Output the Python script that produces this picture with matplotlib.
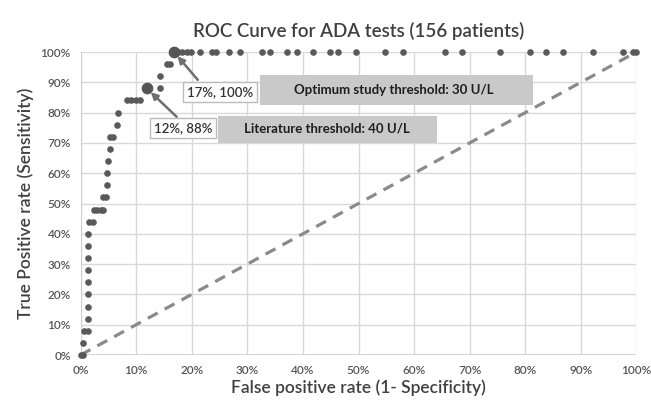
import matplotlib.pyplot as plt
from matplotlib.patches import Rectangle
from matplotlib.ticker import MultipleLocator, FuncFormatter

plt.rcParams['font.family'] = ['Lato', 'DejaVu Sans']

# ROC points (false positive rate %, true positive rate %)
fpr = [0, 0.4, 0.5, 0.6, 1.3, 1.4, 1.4, 1.4, 1.4, 1.4, 1.4, 1.4, 1.4, 1.5, 2.2,
       2.4, 3.0, 3.6, 4.1, 4.1, 4.6, 4.7, 4.7, 5.0, 5.3, 5.3, 5.9, 6.5, 6.8,
       8.3, 9.1, 9.9, 10.7, 11.9, 14.3, 14.3, 15.5, 16.1, 16.8,
       17.6, 18.3, 19.1, 19.8, 21.4, 23.7, 24.4, 26.7, 28.7, 32.6, 34.1, 37.1,
       38.9, 41.9, 44.9, 46.4, 49.6, 54.8, 58.0, 65.6, 68.6, 75.4, 80.8, 83.8,
       86.8, 92.2, 97.6, 99.4, 100]
tpr = [0, 0, 4, 8, 8, 12, 16, 20, 24, 28, 32, 36, 40, 44, 44,
       48, 48, 48, 48, 52, 52, 56, 60, 64, 68, 72, 72, 76, 80,
       84, 84, 84, 84, 88, 88, 92, 96, 96, 100] + [100] * 29

# highlighted thresholds
hl_fpr = [11.9, 16.8]
hl_tpr = [88, 100]

fig = plt.figure(figsize=(6.51, 4.01), dpi=100)
ax = fig.add_axes([0.1237, 0.1147, 0.854, 0.7556])

ax.plot([0, 100], [0, 100], ls=(0, (3.5, 2.5)), color='#8a8a8a', lw=2.3, zorder=2)
ax.scatter(fpr, tpr, s=14, color='#595959', zorder=3, clip_on=False)
ax.scatter(hl_fpr, hl_tpr, s=55, color='#555555', zorder=4, clip_on=False)

ax.set_xlim(0, 100)
ax.set_ylim(0, 100)
ax.xaxis.set_major_locator(MultipleLocator(10))
ax.yaxis.set_major_locator(MultipleLocator(10))
pct = FuncFormatter(lambda v, p: f'{v:.0f}%')
ax.xaxis.set_major_formatter(pct)
ax.yaxis.set_major_formatter(pct)
ax.tick_params(length=0, labelsize=8.5, colors='#555555', pad=7)
for lab in ax.get_xticklabels() + ax.get_yticklabels():
    lab.set_fontweight('semibold')
ax.grid(True, color='#d9d9d9', lw=1)
for s in ax.spines.values():
    s.set_visible(False)
ax.axvline(0, color='#cccccc', lw=1.2, zorder=1)
ax.axhline(0, color='#cccccc', lw=1.2, zorder=1)
ax.set_axisbelow(True)

ax.set_title('ROC Curve for ADA tests (156 patients)', fontsize=13.5, color='#404040',
             fontweight='semibold', pad=11)
ax.set_xlabel('False positive rate (1- Specificity)', fontsize=12.5, color='#404040',
              fontweight='semibold', labelpad=3)
ax.set_ylabel('True Positive rate (Sensitivity)', fontsize=12.5, color='#404040',
              fontweight='semibold', labelpad=5)

arrow = dict(arrowstyle='-|>', color='#6e6e6e', lw=1.8, mutation_scale=10, shrinkA=0, shrinkB=4)
box = dict(boxstyle='square,pad=0.3', fc='white', ec='#bbbbbb', lw=1)

# optimum threshold
ax.annotate('', xy=(16.8, 100), xytext=(21.1, 90.8), arrowprops=arrow, zorder=5)
ax.text(25.1, 86.8, '17%, 100%', fontsize=9.5, color='#333333', ha='center', va='center',
        fontweight='semibold', bbox=box, zorder=6)
ax.add_patch(Rectangle((32.3, 82.5), 49.1, 9.9, fc='#c9c9c9', ec='none', zorder=5))
ax.text(56.3, 87.5, 'Optimum study threshold: 30 U/L', fontsize=9.5, color='#1e1e1e',
        fontweight='bold', ha='center', va='center', zorder=6)

# literature threshold
ax.annotate('', xy=(11.9, 88), xytext=(17.3, 78.6), arrowprops=arrow, zorder=5)
ax.text(18.4, 74.9, '12%, 88%', fontsize=9.5, color='#333333', ha='center', va='center',
        fontweight='semibold', bbox=box, zorder=6)
ax.add_patch(Rectangle((24.7, 70.1), 39.4, 8.8, fc='#c9c9c9', ec='none', zorder=5))
ax.text(44.3, 74.6, 'Literature threshold: 40 U/L', fontsize=9.5, color='#1e1e1e',
        fontweight='bold', ha='center', va='center', zorder=6)

fig.savefig('out.png', dpi=100)
